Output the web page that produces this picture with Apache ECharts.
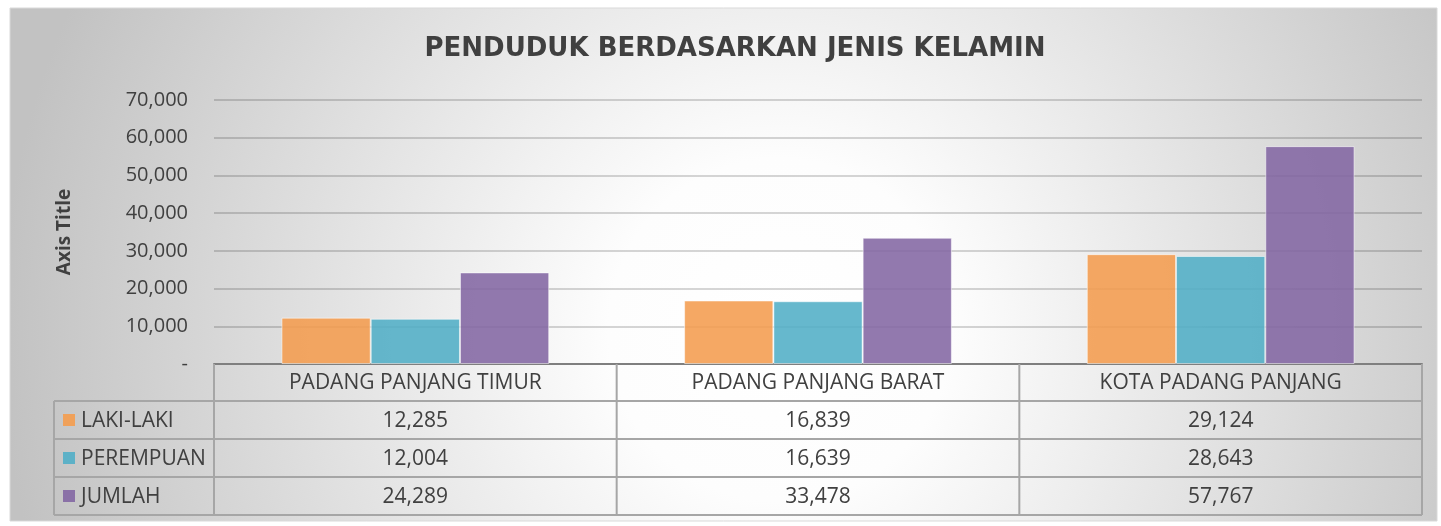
<!DOCTYPE html>
<html><head><meta charset="utf-8">
<script src="https://cdn.jsdelivr.net/npm/echarts@6/dist/echarts.min.js"></script>
<style>html,body{margin:0;padding:0;background:#fff}#c{width:1441px;height:526px}</style>
</head><body><div id="c"></div>
<script>
// ---- data ----
const categories = ['PADANG PANJANG TIMUR', 'PADANG PANJANG BARAT', 'KOTA PADANG PANJANG'];
const seriesNames = ['LAKI-LAKI', 'PEREMPUAN', 'JUMLAH'];
const lakiLaki = [12285, 16839, 29124];
const perempuan = [12004, 16639, 28643];
const jumlah = [24289, 33478, 57767];
const yTickValues = [0, 10000, 20000, 30000, 40000, 50000, 60000, 70000];
const titleText = 'PENDUDUK BERDASARKAN JENIS KELAMIN';
const axisTitle = 'Axis Title';

// ---- styling / layout ----
const colors = ['#F49C4E', '#51AEC6', '#8367A3'];
const FONT = 'Open Sans';
const TXT = '#404040';
const G = { left: 214, top: 100, right: 1422, bottom: 364 };
const ROW_H = 38;
const LABEL_LEFT = 54;
const LINE = '#a6a6a6';
const TFONT = '21px "' + FONT + '"';

const seriesData = [lakiLaki, perempuan, jumlah];
const fmt = v => v === 0 ? '-' : v.toLocaleString('en-US');

const chart = echarts.init(document.getElementById('c'), null, { renderer: 'canvas' });

function tableGraphics() {
  const els = [];
  const nCat = categories.length;
  const colW = (G.right - G.left) / nCat;
  const headerTop = G.bottom, headerBot = G.bottom + 37;
  const tableBot = headerBot + ROW_H * seriesNames.length;
  const line = (x1, y1, x2, y2, w, c) => els.push({
    type: 'line', z: 50, shape: { x1, y1, x2, y2 },
    style: { stroke: c || LINE, lineWidth: w || 2 }
  });
  line(LABEL_LEFT, headerBot, G.right, headerBot);
  for (let r = 1; r <= seriesNames.length; r++) {
    const y = headerBot + ROW_H * r;
    line(LABEL_LEFT, y, G.right, y);
  }
  line(LABEL_LEFT, headerBot, LABEL_LEFT, tableBot);
  for (let c = 0; c <= nCat; c++) {
    const x = G.left + colW * c;
    line(x, headerTop, x, tableBot);
  }
  categories.forEach((cat, i) => {
    els.push({ type: 'text', z: 51, x: G.left + colW * (i + 0.5), y: (headerTop + headerBot) / 2 + 1,
      style: { text: cat, fill: TXT, font: TFONT, align: 'center', verticalAlign: 'middle' } });
  });
  seriesNames.forEach((name, r) => {
    const yc = headerBot + ROW_H * (r + 0.5);
    els.push({ type: 'rect', z: 51, shape: { x: LABEL_LEFT + 9, y: yc - 6, width: 12, height: 12 },
      style: { fill: colors[r], opacity: 0.9 } });
    els.push({ type: 'text', z: 51, x: LABEL_LEFT + 27, y: yc + 1,
      style: { text: name, fill: TXT, font: TFONT, align: 'left', verticalAlign: 'middle' } });
    seriesData[r].forEach((v, i) => {
      els.push({ type: 'text', z: 51, x: G.left + colW * (i + 0.5), y: yc + 1,
        style: { text: fmt(v), fill: TXT, font: TFONT, align: 'center', verticalAlign: 'middle' } });
    });
  });
  return els;
}

const bg = {
  type: 'rect', z: -10, silent: true,
  shape: { x: 10, y: 8, width: 1427, height: 513 },
  style: {
    stroke: '#d9d9d9', lineWidth: 1,
    fill: {
      type: 'radial', x: 780, y: 330, r: 780, global: true,
      colorStops: [
        { offset: 0, color: '#ffffff' },
        { offset: 0.22, color: '#fdfdfd' },
        { offset: 1, color: '#c2c2c2' }
      ]
    }
  }
};

chart.setOption({
  animation: false,
  backgroundColor: '#ffffff',
  title: {
    text: titleText, left: 730, top: 31, textAlign: 'center',
    textStyle: { fontFamily: 'DejaVu Sans', fontWeight: 'bold', fontSize: 26, color: TXT }
  },
  grid: { left: G.left, top: G.top, right: 1441 - G.right, bottom: 526 - G.bottom, containLabel: false },
  xAxis: {
    type: 'category', data: categories,
    axisLine: { show: true, lineStyle: { color: '#7f7f7f', width: 2 } },
    axisTick: { show: false }, axisLabel: { show: false }, splitLine: { show: false }
  },
  yAxis: {
    type: 'value', min: 0, max: 70000, interval: 10000,
    name: axisTitle, nameLocation: 'middle', nameGap: 140, nameRotate: 90,
    nameTextStyle: { fontFamily: FONT, fontWeight: 'bold', fontSize: 19, color: TXT },
    axisLine: { show: false }, axisTick: { show: false },
    axisLabel: { formatter: v => fmt(v), fontFamily: FONT, fontSize: 20, color: TXT, margin: 26 },
    splitLine: { lineStyle: { color: 'rgba(0,0,0,0.16)', width: 2 } }
  },
  series: seriesNames.map((n, i) => ({
    name: n, type: 'bar', data: seriesData[i],
    barGap: '0%', barCategoryGap: '33.5%',
    itemStyle: { color: colors[i], opacity: 0.88, borderColor: 'rgba(255,255,255,0.6)', borderWidth: 1 }
  })),
  graphic: [bg].concat(tableGraphics())
});
</script></body></html>
